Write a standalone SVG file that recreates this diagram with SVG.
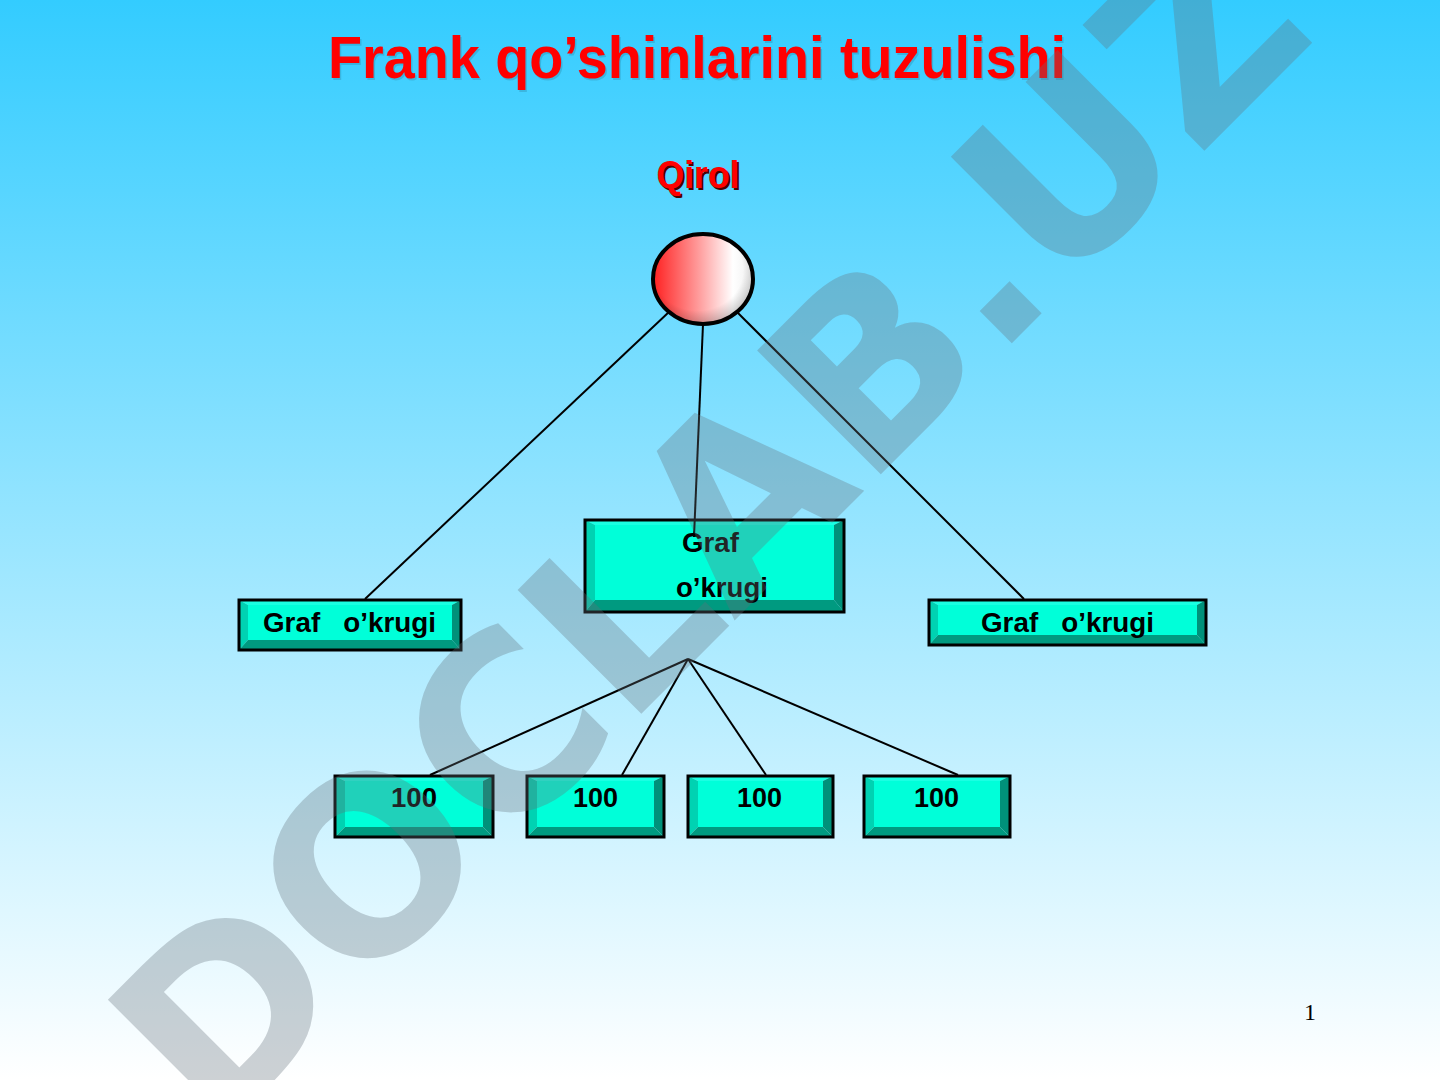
<svg xmlns="http://www.w3.org/2000/svg" width="1440" height="1080" viewBox="0 0 1440 1080">
<defs>
<linearGradient id="bg" x1="0" y1="0" x2="0" y2="1">
<stop offset="0" stop-color="#33ccff"/>
<stop offset="1" stop-color="#ffffff"/>
</linearGradient>
<linearGradient id="ball" x1="0" y1="0" x2="1" y2="0">
<stop offset="0" stop-color="#ff2020"/>
<stop offset="0.45" stop-color="#ff9a9a"/>
<stop offset="0.8" stop-color="#ffffff"/>
<stop offset="1" stop-color="#eeeeee"/>
</linearGradient>
<radialGradient id="shade" cx="0.45" cy="0.4" r="0.6">
<stop offset="0.75" stop-color="#000" stop-opacity="0"/>
<stop offset="1" stop-color="#000" stop-opacity="0.2"/>
</radialGradient>
<style>
.t{fill:#1affe2}
.f{fill:#00ffd9}
.l{fill:#00d2b2}
.r{fill:#00917a}
.b{fill:#009a80}
.fr{fill:none;stroke:#000;stroke-width:3}
.lbl{font-family:"Liberation Sans",Arial,sans-serif;font-weight:bold;font-size:27px;fill:#000;white-space:pre}
.con{stroke:#000;stroke-width:2;fill:none}
</style>
</defs>
<rect width="1440" height="1080" fill="url(#bg)"/>

<g id="title">
<text x="698.5" y="79.5" text-anchor="middle" font-family="Liberation Sans, Arial, sans-serif" font-weight="bold" font-size="60" fill="#000" fill-opacity="0.12" textLength="738" lengthAdjust="spacingAndGlyphs">Frank qo’shinlarini tuzulishi</text>
<text x="697" y="78" text-anchor="middle" font-family="Liberation Sans, Arial, sans-serif" font-weight="bold" font-size="60" fill="#ff0000" textLength="738" lengthAdjust="spacingAndGlyphs">Frank qo’shinlarini tuzulishi</text>
</g>

<g id="qirol">
<text x="700" y="190" text-anchor="middle" font-family="Liberation Sans, Arial, sans-serif" font-weight="bold" font-size="38" fill="#4a0000" textLength="83" lengthAdjust="spacingAndGlyphs">Qirol</text>
<text x="698" y="188" text-anchor="middle" font-family="Liberation Sans, Arial, sans-serif" font-weight="bold" font-size="38" fill="#ff0000" textLength="83" lengthAdjust="spacingAndGlyphs">Qirol</text>
<ellipse cx="703" cy="279" rx="50" ry="45" fill="url(#ball)"/>
<ellipse cx="703" cy="279" rx="50" ry="45" fill="url(#shade)"/>
<ellipse cx="703" cy="279" rx="50" ry="45" fill="none" stroke="#000" stroke-width="4"/>
</g>

<g id="grafL">
<polygon class="t" points="239,600 461,600 452,605 248,605"/>
<polygon class="l" points="239,600 248,605 248,640 239,650"/>
<polygon class="r" points="461,600 461,650 452,640 452,605"/>
<polygon class="b" points="239,650 248,640 452,640 461,650"/>
<rect class="f" x="248" y="605" width="204" height="35"/>
<rect class="fr" x="239" y="600" width="222" height="50"/>
<text class="lbl" x="263" y="632" textLength="173" lengthAdjust="spacingAndGlyphs">Graf   o’krugi</text>
</g>

<g id="grafC">
<polygon class="t" points="585,520 844,520 834,525 595,525"/>
<polygon class="l" points="585,520 595,525 595,600 585,612"/>
<polygon class="r" points="844,520 844,612 834,600 834,525"/>
<polygon class="b" points="585,612 595,600 834,600 844,612"/>
<rect class="f" x="595" y="525" width="239" height="75"/>
<rect class="fr" x="585" y="520" width="259" height="92"/>
<text class="lbl" x="682" y="552" textLength="57" lengthAdjust="spacingAndGlyphs">Graf</text>
<text class="lbl" x="676" y="597" textLength="92" lengthAdjust="spacingAndGlyphs">o’krugi</text>
</g>

<g id="grafR">
<polygon class="t" points="929,600 1206,600 1197,605 938,605"/>
<polygon class="l" points="929,600 938,605 938,635 929,645"/>
<polygon class="r" points="1206,600 1206,645 1197,635 1197,605"/>
<polygon class="b" points="929,645 938,635 1197,635 1206,645"/>
<rect class="f" x="938" y="605" width="259" height="30"/>
<rect class="fr" x="929" y="600" width="277" height="45"/>
<text class="lbl" x="981" y="632" textLength="173" lengthAdjust="spacingAndGlyphs">Graf   o’krugi</text>
</g>

<g id="yuz1">
<polygon class="t" points="335,776 493,776 483,781 345,781"/>
<polygon class="l" points="335,776 345,781 345,827 335,837"/>
<polygon class="r" points="493,776 493,837 483,827 483,781"/>
<polygon class="b" points="335,837 345,827 483,827 493,837"/>
<rect class="f" x="345" y="781" width="138" height="46"/>
<rect class="fr" x="335" y="776" width="158" height="61"/>
<text class="lbl" x="391" y="807" textLength="46" lengthAdjust="spacingAndGlyphs">100</text>
</g>

<g id="yuz2">
<polygon class="t" points="527,776 664,776 654,781 537,781"/>
<polygon class="l" points="527,776 537,781 537,827 527,837"/>
<polygon class="r" points="664,776 664,837 654,827 654,781"/>
<polygon class="b" points="527,837 537,827 654,827 664,837"/>
<rect class="f" x="537" y="781" width="117" height="46"/>
<rect class="fr" x="527" y="776" width="137" height="61"/>
<text class="lbl" x="573" y="807" textLength="45" lengthAdjust="spacingAndGlyphs">100</text>
</g>

<g id="yuz3">
<polygon class="t" points="688,776 833,776 823,781 698,781"/>
<polygon class="l" points="688,776 698,781 698,827 688,837"/>
<polygon class="r" points="833,776 833,837 823,827 823,781"/>
<polygon class="b" points="688,837 698,827 823,827 833,837"/>
<rect class="f" x="698" y="781" width="125" height="46"/>
<rect class="fr" x="688" y="776" width="145" height="61"/>
<text class="lbl" x="737" y="807" textLength="45" lengthAdjust="spacingAndGlyphs">100</text>
</g>

<g id="yuz4">
<polygon class="t" points="864,776 1010,776 1000,781 874,781"/>
<polygon class="l" points="864,776 874,781 874,827 864,837"/>
<polygon class="r" points="1010,776 1010,837 1000,827 1000,781"/>
<polygon class="b" points="864,837 874,827 1000,827 1010,837"/>
<rect class="f" x="874" y="781" width="126" height="46"/>
<rect class="fr" x="864" y="776" width="146" height="61"/>
<text class="lbl" x="914" y="807" textLength="45" lengthAdjust="spacingAndGlyphs">100</text>
</g>

<g id="connectors" class="con">
<line x1="670" y1="311" x2="365" y2="599"/>
<line x1="703" y1="324" x2="694" y2="537"/>
<line x1="736" y1="311" x2="1024" y2="599"/>
<line x1="688" y1="659" x2="430" y2="775"/>
<line x1="688" y1="659" x2="622" y2="775"/>
<line x1="688" y1="659" x2="766" y2="775"/>
<line x1="688" y1="659" x2="958" y2="775"/>
</g>

<g id="page">
<text x="1310" y="1020" text-anchor="middle" font-family="Liberation Serif, Times New Roman, serif" font-size="24" fill="#000">1</text>
</g>

<g id="watermark">
<text x="216" y="1139" transform="rotate(-45 216 1139)" font-family="DejaVu Sans, sans-serif" font-weight="bold" font-size="240" fill="#64707a" fill-opacity="0.32">DOCLAB.UZ</text>
</g>
</svg>
